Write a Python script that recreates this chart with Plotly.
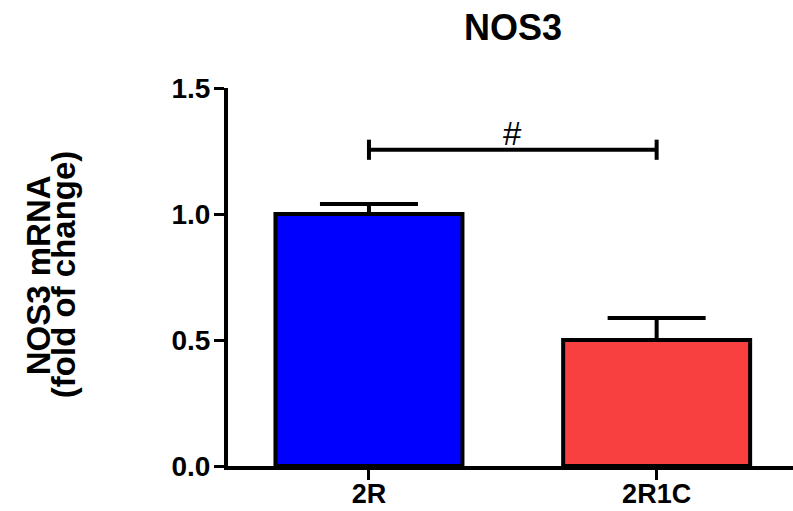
import plotly.graph_objects as go

# Relative NOS3 expression (mean ± SEM)
groups = ["2R", "2R1C"]
means = [1.0, 0.50]
sem_upper = [0.04, 0.087]
bar_colors = ["#0000FF", "#F84040"]

# Significance bracket between the two groups
bracket_pair = [0, 1]
bracket_y = 1.255
bracket_label = "#"

y_ticks = [0.0, 0.5, 1.0, 1.5]

FONT = "Liberation Sans, Arial, sans-serif"
TICK_HALF = 0.04  # half height of bracket end ticks (data units)

fig = go.Figure()

fig.add_trace(go.Bar(
    x=list(range(len(groups))),
    y=means,
    width=0.65,
    marker=dict(color=bar_colors, line=dict(color="black", width=4)),
    error_y=dict(
        type="data",
        symmetric=False,
        array=sem_upper,
        arrayminus=[0] * len(sem_upper),
        color="black",
        thickness=4,
        width=49,
    ),
    showlegend=False,
))

# bracket: left tick, horizontal bar, right tick
x0, x1 = bracket_pair
fig.add_trace(go.Scatter(
    x=[x0, x0, None, x0, x1, None, x1, x1],
    y=[bracket_y - TICK_HALF, bracket_y + TICK_HALF, None,
       bracket_y, bracket_y, None,
       bracket_y - TICK_HALF, bracket_y + TICK_HALF],
    mode="lines",
    line=dict(color="black", width=4),
    hoverinfo="skip",
    showlegend=False,
))

fig.add_annotation(
    x=(x0 + x1) / 2, y=bracket_y, xref="x", yref="y",
    text=bracket_label, showarrow=False,
    yanchor="bottom", yshift=-4,
    font=dict(family=FONT, size=33, color="black"),
)

# chart title
fig.add_annotation(
    x=0.505, y=1.16, xref="paper", yref="paper",
    text="NOS3", showarrow=False, xanchor="center", yanchor="middle",
    font=dict(family=FONT, size=36, color="black", weight="bold"),
)

# two-line rotated y-axis title
fig.add_annotation(
    x=-0.336, y=0.505, xref="paper", yref="paper",
    text="NOS3 mRNA", showarrow=False, textangle=-90,
    xanchor="center", yanchor="middle",
    font=dict(family=FONT, size=33, color="black", weight="bold"),
)
fig.add_annotation(
    x=-0.292, y=0.505, xref="paper", yref="paper",
    text="(fold of change)", showarrow=False, textangle=-90,
    xanchor="center", yanchor="middle",
    font=dict(family=FONT, size=33, color="black", weight="bold"),
)

fig.update_layout(
    width=793, height=511,
    margin=dict(l=228, r=0, t=88, b=45),
    paper_bgcolor="white",
    plot_bgcolor="white",
    font=dict(family=FONT, color="black"),
)

fig.update_xaxes(
    range=[-0.49, 1.474],
    tickvals=list(range(len(groups))),
    ticktext=groups,
    showline=True, linecolor="black", linewidth=4,
    ticks="outside", ticklen=10, tickwidth=3, tickcolor="black",
    tickfont=dict(family=FONT, size=27, color="black", weight="bold"),
    ticklabelstandoff=-9,
    showgrid=False, zeroline=False, automargin=False,
)

fig.update_yaxes(
    range=[0, 1.5],
    tickvals=y_ticks,
    tickformat=".1f",
    showline=True, linecolor="black", linewidth=4,
    ticks="outside", ticklen=10, tickwidth=3, tickcolor="black",
    tickfont=dict(family=FONT, size=28, color="black", weight="bold"),
    ticklabelstandoff=-2,
    showgrid=False, zeroline=False, automargin=False,
)

fig.write_html("out.html")
